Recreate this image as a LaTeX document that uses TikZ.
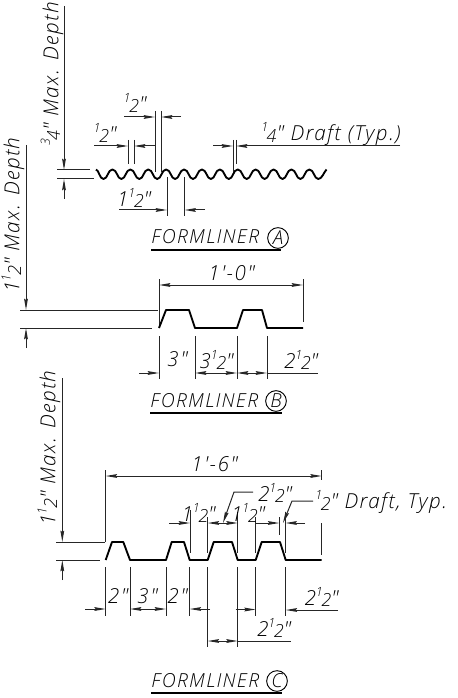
\documentclass[tikz,border=0pt]{standalone}
\usepackage{fontspec}
\usetikzlibrary{arrows.meta}
\setmainfont{Open Sans Light}
\newfontfamily\dimfont[LetterSpace=7]{Open Sans Light}
\newcommand\fr[2]{\raisebox{0.42em}{\fontsize{9.5}{9.5}\selectfont #1}\kern-1.2pt\raisebox{-0.08em}{\fontsize{13.5}{13.5}\selectfont #2}}
\tikzset{
  thin line/.style={line width=0.75pt,black!85},
  profile/.style={line width=1.4pt,black,line join=round},
  tip/.style={thin line,-{Stealth[length=8.5pt,width=2.8pt,inset=1pt]}},
  twotip/.style={thin line,{Stealth[length=8.5pt,width=2.8pt,inset=1pt]}-{Stealth[length=8.5pt,width=2.8pt,inset=1pt]}},
  lab/.style={inner sep=0pt,font=\dimfont\itshape\fontsize{15.5}{15.5}\selectfont},
  captext/.style={inner sep=0pt,anchor=west,font=\dimfont\itshape\fontsize{14.5}{14.5}\selectfont},
  ring/.style={circle,draw,line width=0.7pt,minimum size=15.5pt,inner sep=0pt,font=\itshape\fontsize{14.5}{14.5}\selectfont}
}
\begin{document}
\begin{tikzpicture}[x=0.75pt,y=-0.75pt]
\useasboundingbox (0,0) rectangle (457,698);
% ---------- Formliner A
\draw[tip] (64,6) -- (64,170);
\draw[tip] (64,199) -- (64,179);
\draw[thin line] (57,170) -- (90,170) (57,179) -- (94,179);
\draw[profile] (96,169.5) .. controls (99,170) and (99.5,179) .. (103.5,179)
  \foreach \k in {0,...,11}{
    .. controls ({103.5+17.9*\k+4.3},179) and ({103.5+17.9*\k+4.3},169.5) .. ({103.5+17.9*\k+8.95},169.5)
    .. controls ({103.5+17.9*\k+13.6},169.5) and ({103.5+17.9*\k+13.6},179) .. ({103.5+17.9*\k+17.9},179)
  }
  .. controls (322,179) and (324,172) .. (326.5,169.5);
\draw[thin line] (155,111) -- (155,172) (161,111) -- (161,172);
\draw[tip] (124,117) -- (155,117);
\draw[tip] (181,117) -- (161,117);
\draw[thin line] (128,140) -- (128,164) (134,140) -- (134,164);
\draw[tip] (94,146) -- (128,146);
\draw[tip] (155,146) -- (134,146);
\draw[thin line] (233,140) -- (233,172) (236,140) -- (236,164);
\draw[tip] (213,146) -- (233,146);
\draw[tip] (400,146) -- (236,146);
\draw[thin line] (167,177) -- (167,216) (184.5,177) -- (184.5,216);
\draw[tip] (119,210) -- (167,210);
\draw[tip] (205,210) -- (184.5,210);
\node[lab,rotate=90] (ta) at (52,74) {\fr{3}{4}" Max. Depth};
\node[lab] (tb) at (135,103) {\fr{1}{2}"};
\node[lab] (tc) at (105,133) {\fr{1}{2}"};
\node[lab,anchor=west] (td) at (261,134) {\fr{1}{4}" Draft (Typ.)};
\node[lab] (te) at (134,198) {1\fr{1}{2}"};
\node[captext] (ca) at (151,237) {FORMLINER};
\node[ring] (ra) at (278,238) {A};
\draw[line width=1pt] (151,250) -- (281,250);
% ---------- Formliner B
\draw[thin line] (159,279) -- (159,328) (303,279) -- (303,322);
\draw[twotip] (159,285) -- (303,285);
\draw[profile] (159,328) -- (166,310) -- (189,310) -- (195,328) -- (237,328) -- (243,310) -- (262,310) -- (267,328) -- (303,328);
\draw[thin line] (20,310) -- (158,310) (20,328) -- (152,328);
\draw[tip] (26,145) -- (26,310);
\draw[tip] (26,348) -- (26,328);
\draw[thin line] (159,336) -- (159,379) (195,336) -- (195,379) (237,336) -- (237,379) (267,336) -- (267,379);
\draw[tip] (139,373) -- (159,373);
\draw[twotip] (195,373) -- (237,373);
\draw[twotip] (237,373) -- (267,373);
\draw[thin line] (267,373) -- (318,373);
\node[lab,rotate=90] (tf) at (13,215) {1\fr{1}{2}" Max. Depth};
\node[lab] (tg) at (231.5,273) {1'-0"};
\node[lab] (th) at (177.5,359) {3"};
\node[lab] (ti) at (216.5,360) {3\fr{1}{2}"};
\node[lab] (tj) at (301,360) {2\fr{1}{2}"};
\node[captext] (cb) at (150,401) {FORMLINER};
\node[ring] (rb) at (276,401) {B};
\draw[line width=1pt] (150,413) -- (282,413);
% ---------- Formliner C
\draw[thin line] (105.7,470) -- (105.7,542) (321.7,470) -- (321.7,480) (321.7,523) -- (321.7,555);
\draw[twotip] (105.7,476) -- (321.7,476);
\draw[profile] (105.7,560) -- (112,542) -- (123.3,542) -- (130,560) -- (166,560) -- (171.7,542) -- (184,542) -- (189.7,560) -- (207.7,560) -- (213.7,542) -- (232,542) -- (237.7,560) -- (255.7,560) -- (261.7,542) -- (280,542) -- (285.7,560) -- (321.7,560);
\draw[thin line] (56,542) -- (105,542) (56,560) -- (100,560);
\draw[tip] (62.3,378) -- (62.3,542);
\draw[tip] (62.3,580) -- (62.3,560);
\draw[thin line] (105.7,567) -- (105.7,616) (130,567) -- (130,616) (166,567) -- (166,616) (189.7,567) -- (189.7,616) (255.7,567) -- (255.7,616) (285.7,567) -- (285.7,616) (207.7,567) -- (207.7,647) (237.7,567) -- (237.7,647);
\draw[tip] (85,609) -- (105.7,609);
\draw[twotip] (130,609) -- (166,609);
\draw[tip] (210,609) -- (189.7,609);
\draw[tip] (235.5,609.5) -- (255.7,609.5);
\draw[tip] (338,610) -- (285.7,610);
\draw[twotip] (207.7,641) -- (237.7,641);
\draw[thin line] (237.7,641) -- (290.7,641);
\draw[thin line] (190,510) -- (190,553) (207.7,517) -- (207.7,553) (237.7,512) -- (237.7,553) (255.7,517) -- (255.7,553) (279.3,517) -- (279.3,535) (285.5,512) -- (285.5,553);
\draw[tip] (169,523) -- (190,523);
\draw[twotip] (207.7,523) -- (237.7,523);
\draw[tip] (255.7,523) -- (279.3,523);
\draw[tip] (305,523) -- (285.5,523);
\draw[tip] (253,492) -- (234,492) -- (223,523);
\draw[tip] (313,501) -- (292,501) -- (283,523);
\node[lab,rotate=90] (tk) at (49,448) {1\fr{1}{2}" Max. Depth};
\node[lab] (tl) at (214.5,464) {1'-6"};
\node[lab] (tm) at (275,493) {2\fr{1}{2}"};
\node[lab,anchor=west] (tn) at (315,502) {\fr{1}{2}" Draft, Typ.};
\node[lab] (to) at (198.5,513) {1\fr{1}{2}"};
\node[lab] (tp) at (248,513) {1\fr{1}{2}"};
\node[lab] (tq) at (118,596) {2"};
\node[lab] (tr) at (147.5,596) {3"};
\node[lab] (ts) at (177.5,596) {2"};
\node[lab] (tt) at (321.5,597) {2\fr{1}{2}"};
\node[lab] (tu) at (274,628) {2\fr{1}{2}"};
\node[captext] (cc) at (151,681) {FORMLINER};
\node[ring] (rc) at (277,681) {C};
\draw[line width=1pt] (151,693) -- (282,693);
\end{tikzpicture}
\end{document}
